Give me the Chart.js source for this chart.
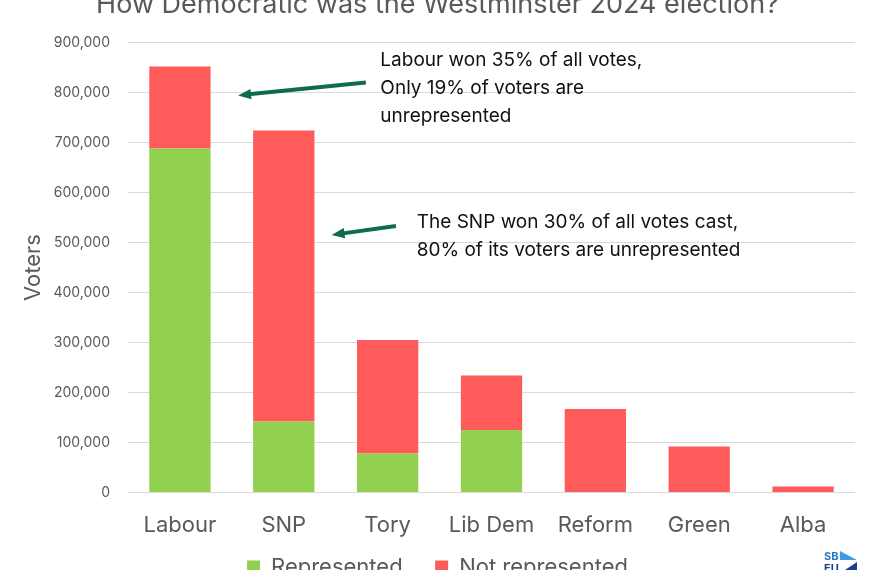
<!DOCTYPE html>
<html>
<head>
<meta charset="utf-8">
<script src="https://cdn.jsdelivr.net/npm/chart.js@4"></script>
<style>
  html, body { margin: 0; padding: 0; background: #fff; overflow: hidden; }
  #wrap { position: absolute; left: 0; top: -16px; width: 870px; height: 604px; }
</style>
</head>
<body>
<div id="wrap"><canvas id="myChart"></canvas></div>
<script>
let parties = ["Labour", "SNP", "Tory", "Lib Dem", "Reform", "Green", "Alba"];
let represented = [688000, 142000, 78000, 125000, 0, 0, 0];
let notRepresented = [164000, 582000, 227000, 109000, 167000, 92000, 12000];
let yTicks = [0, 100000, 200000, 300000, 400000, 500000, 600000, 700000, 800000, 900000];

let labourNote = ["Labour won 35% of all votes,", "Only 19% of voters are", "unrepresented"];
let snpNote = ["The SNP won 30% of all votes cast,", "80% of its voters are unrepresented"];

const font = "Inter, 'Noto Sans', sans-serif";

// arrows + notes, placed through the chart scales
const notes = {
  id: "notes",
  afterDraw(chart) {
    const ctx = chart.ctx;
    const xs = chart.scales.x;
    const ys = chart.scales.y;

    const arrow = (x1, y1, x2, y2) => {
      const ang = Math.atan2(y2 - y1, x2 - x1);
      const hl = 14;
      ctx.save();
      ctx.strokeStyle = "#0e6b4d";
      ctx.fillStyle = "#0e6b4d";
      ctx.lineWidth = 4;
      ctx.beginPath();
      ctx.moveTo(x1, y1);
      ctx.lineTo(x2 - Math.cos(ang) * 8, y2 - Math.sin(ang) * 8);
      ctx.stroke();
      ctx.beginPath();
      ctx.moveTo(x2, y2);
      ctx.lineTo(x2 - hl * Math.cos(ang - 0.38), y2 - hl * Math.sin(ang - 0.38));
      ctx.lineTo(x2 - hl * Math.cos(ang + 0.38), y2 - hl * Math.sin(ang + 0.38));
      ctx.closePath();
      ctx.fill();
      ctx.restore();
    };

    arrow(xs.getPixelForValue(1.79), ys.getPixelForValue(820000),
          xs.getPixelForValue(0.56), ys.getPixelForValue(794000));
    arrow(xs.getPixelForValue(2.08), ys.getPixelForValue(533000),
          xs.getPixelForValue(1.46), ys.getPixelForValue(515000));

    ctx.save();
    ctx.fillStyle = "#111";
    ctx.font = "19px " + font;
    ctx.textBaseline = "middle";
    let tx = xs.getPixelForValue(1.93);
    let ty = ys.getPixelForValue(864000);
    labourNote.forEach((t, i) => ctx.fillText(t, tx, ty + i * 28));
    tx = xs.getPixelForValue(2.28);
    ty = ys.getPixelForValue(541000);
    snpNote.forEach((t, i) => ctx.fillText(t, tx, ty + i * 28));

    // logo
    const lx = chart.width - 46, ly = chart.height - 37;
    ctx.fillStyle = "#2a78c2";
    ctx.font = "bold 11px " + font;
    ctx.textBaseline = "top";
    ctx.fillText("SB", lx, ly);
    ctx.fillStyle = "#3a9ee0";
    ctx.beginPath();
    ctx.moveTo(lx + 16, ly);
    ctx.lineTo(lx + 33, ly + 9);
    ctx.lineTo(lx + 16, ly + 9);
    ctx.closePath();
    ctx.fill();
    ctx.fillStyle = "#1a3f8f";
    ctx.fillText("EU", lx, ly + 12);
    ctx.beginPath();
    ctx.moveTo(lx + 18, ly + 21);
    ctx.lineTo(lx + 33, ly + 11);
    ctx.lineTo(lx + 33, ly + 21);
    ctx.closePath();
    ctx.fill();
    ctx.restore();
  }
};

const ctx = document.getElementById("myChart");

new Chart(ctx, {
  type: "bar",
  data: {
    labels: parties,
    datasets: [
      {
        label: "Represented",
        data: represented,
        backgroundColor: "#92d050",
        categoryPercentage: 0.59,
        barPercentage: 1
      },
      {
        label: "Not represented",
        data: notRepresented,
        backgroundColor: "#ff5b5b",
        categoryPercentage: 0.59,
        barPercentage: 1
      }
    ]
  },
  options: {
    responsive: true,
    maintainAspectRatio: false,
    animation: false,
    layout: { padding: { left: 20, right: 15, top: 0, bottom: 0 } },
    plugins: {
      tooltip: { enabled: false },
      title: {
        display: true,
        text: "How Democratic was the Westminster 2024 election?",
        color: "#595959",
        font: { family: font, size: 27, weight: "normal" },
        padding: { top: 5, bottom: 21 }
      },
      legend: {
        position: "bottom",
        labels: {
          color: "#595959",
          font: { family: font, size: 22 },
          boxWidth: 13,
          boxHeight: 13,
          padding: 5,
          // wider gap between the two entries
          generateLabels: (chart) => {
            const items = Chart.defaults.plugins.legend.labels.generateLabels(chart);
            items[0].text += "\u2003\u2005";
            return items;
          }
        }
      }
    },
    scales: {
      x: {
        stacked: true,
        grid: { display: false },
        border: { display: false },
        ticks: { color: "#595959", font: { family: font, size: 22 }, padding: 12 }
      },
      y: {
        stacked: true,
        min: 0,
        max: 900000,
        afterBuildTicks: (axis) => { axis.ticks = yTicks.map(v => ({ value: v })); },
        afterFit: (s) => { s.width = 108; },
        grid: { color: "#d9d9d9", drawTicks: false },
        border: { display: false },
        ticks: {
          color: "#595959",
          font: { family: font, size: 14 },
          padding: 18,
          callback: (v) => v.toLocaleString("en-GB")
        },
        title: {
          display: true,
          text: "Voters",
          color: "#595959",
          font: { family: font, size: 22 },
          padding: { top: 0, bottom: 0 }
        }
      }
    }
  },
  plugins: [notes]
});
</script>
</body>
</html>
